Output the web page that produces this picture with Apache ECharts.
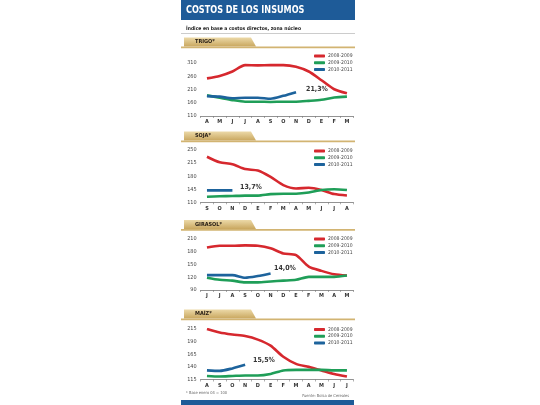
<!DOCTYPE html>
<html><head><meta charset="utf-8">
<script src="https://cdn.jsdelivr.net/npm/echarts@6/dist/echarts.min.js"></script>
<style>html,body{margin:0;padding:0;background:#fff}#c{width:540px;height:405px}</style>
</head><body><div id="c"></div>
<script>
const seriesNames = ['2008-2009', '2009-2010', '2010-2011'];
const trigoMonths = ['A','M','J','J','A','S','O','N','D','E','F','M'];
const sojaMonths = ['S','O','N','D','E','F','M','A','M','J','J','A'];
const girasolMonths = ['J','J','A','S','O','N','D','E','F','M','A','M'];
const maizMonths = ['A','S','O','N','D','E','F','M','A','M','J','J'];

const trigo0809 = [252, 261, 278, 302, 301, 302, 302, 296, 278, 245, 211, 196];
const trigo0910 = [188, 179, 170, 164, 164, 163, 164, 164, 167, 171, 180, 183];
const trigo1011 = [185, 183, 177, 179, 179, 175, 186, 200];

const soja0809 = [232, 217, 212, 199, 195, 178, 156, 147, 149, 143, 132, 128];
const soja0910 = [125, 126, 127, 128, 128, 132, 133, 133, 136, 143, 145, 143];
const soja1011 = [142, 142, 142];

const girasol0809 = [190, 194, 194, 195, 194, 188, 176, 172, 145, 135, 127, 124];
const girasol0910 = [119, 114, 112, 108, 108, 110, 112, 114, 121, 121, 121, 124];
const girasol1011 = [125, 125, 125, 119, 123, 129];

const maiz0809 = [215, 208, 204, 201, 194, 182, 160, 146, 140, 133, 126, 121];
const maiz0910 = [122, 121, 122, 123, 123, 126, 133, 134, 134, 134, 133, 133];
const maiz1011 = [133, 132, 137, 144];

const trigoTicks = {min: 110, max: 310, interval: 50};
const sojaTicks = {min: 110, max: 250, interval: 35};
const girasolTicks = {min: 90, max: 210, interval: 30};
const maizTicks = {min: 115, max: 215, interval: 25};

const panelTitles = ['TRIGO*', 'SOJA*', 'GIRASOL*', 'MAÍZ*'];
const variations = ['21,3%', '13,7%', '14,0%', '15,5%'];

const colors = ['#d6282e', '#1f9e58', '#1d639c'];
const FONT = '"DejaVu Sans Condensed","Liberation Sans Narrow","DejaVu Sans",sans-serif';

const panels = [
  {months: trigoMonths, data: [trigo0809, trigo0910, trigo1011], ticks: trigoTicks, top: 63, height: 53, lineY: 46.5, legendTop: 52.5, pct: [317, 89]},
  {months: sojaMonths, data: [soja0809, soja0910, soja1011], ticks: sojaTicks, top: 150, height: 52.3, lineY: 140.5, legendTop: 147.5, pct: [251, 187]},
  {months: girasolMonths, data: [girasol0809, girasol0910, girasol1011], ticks: girasolTicks, top: 239, height: 51, lineY: 229, legendTop: 235.5, pct: [285, 268]},
  {months: maizMonths, data: [maiz0809, maiz0910, maiz1011], ticks: maizTicks, top: 329, height: 50.5, lineY: 318.5, legendTop: 326, pct: [264, 360]}
];

const grid = [], xAxis = [], yAxis = [], series = [], legend = [], graphic = [];

// header
graphic.push({type: 'rect', shape: {x: 181, y: 0, width: 174, height: 20}, style: {fill: '#1e5b98'}});
graphic.push({type: 'text', x: 186, y: 10.5, scaleX: 0.82, style: {text: 'COSTOS DE LOS INSUMOS', fill: '#fff', font: 'bold 11px ' + FONT, verticalAlign: 'middle'}});
graphic.push({type: 'text', left: 186, top: 26, style: {text: 'Índice en base a costos directos, zona núcleo', fill: '#222', font: 'bold 5px ' + FONT}});
graphic.push({type: 'rect', shape: {x: 181, y: 33, width: 174, height: 0.6}, style: {fill: '#999'}});

panels.forEach((p, i) => {
  grid.push({left: 200.6, width: 152.7, top: p.top, height: p.height});
  xAxis.push({
    type: 'category', gridIndex: i, data: p.months, boundaryGap: true,
    axisLine: {lineStyle: {color: '#777', width: 0.8}},
    axisTick: {show: true, length: 2, lineStyle: {color: '#777', width: 0.6}},
    axisLabel: {color: '#333', fontSize: 5.5, fontWeight: 'bold', margin: 3, fontFamily: FONT, interval: 0}
  });
  yAxis.push({
    type: 'value', gridIndex: i, min: p.ticks.min, max: p.ticks.max, interval: p.ticks.interval,
    axisLine: {show: false}, axisTick: {show: false}, splitLine: {show: false},
    axisLabel: {color: '#444', fontSize: 5.5, margin: 4, fontFamily: FONT}
  });
  p.data.forEach((d, k) => {
    series.push({
      type: 'line', name: seriesNames[k], xAxisIndex: i, yAxisIndex: i, data: d,
      smooth: 0.25, symbol: 'none', z: 2 + k,
      lineStyle: {color: colors[k], width: 2.6}, itemStyle: {color: colors[k]}
    });
  });
  legend.push({
    data: seriesNames, orient: 'vertical', left: 314, top: p.legendTop,
    itemWidth: 11, itemHeight: 3, itemGap: 0, icon: 'roundRect', selectedMode: false,
    textStyle: {fontSize: 5, color: '#444', fontFamily: FONT, lineHeight: 6.8, padding: [0, 0, 0, -2]},
    padding: 0
  });
  // tab
  const ly = p.lineY;
  graphic.push({type: 'polygon', shape: {points: [[184, ly - 9], [251, ly - 9], [256, ly], [184, ly]]},
    style: {fill: new echarts.graphic.LinearGradient(0, 0, 0, 1, [{offset: 0, color: '#ecd9a8'}, {offset: 1, color: '#c9a75f'}])}});
  graphic.push({type: 'rect', shape: {x: 181, y: ly, width: 174, height: 1.8}, style: {fill: '#d2b472'}});
  graphic.push({type: 'text', left: 195, top: ly - 7.5, style: {text: panelTitles[i], fill: '#2a2016', font: 'bold 5.5px ' + FONT}});
  graphic.push({type: 'text', x: p.pct[0], y: p.pct[1], style: {text: variations[i], fill: '#333', font: 'bold 7px ' + FONT, align: 'center', verticalAlign: 'middle'}});
});

// footer
graphic.push({type: 'text', left: 186, top: 391, style: {text: '* Base enero 04 = 100', fill: '#666', font: '4px ' + FONT}});
graphic.push({type: 'text', x: 349, y: 396, style: {text: 'Fuente: Bolsa de Cereales', fill: '#666', font: '4px ' + FONT, align: 'right', verticalAlign: 'middle'}});
graphic.push({type: 'rect', shape: {x: 181, y: 400, width: 173, height: 5}, style: {fill: '#1e5b98'}});

const chart = echarts.init(document.getElementById('c'), null, {renderer: 'canvas'});
chart.setOption({backgroundColor: '#fff', animation: false, grid, xAxis, yAxis, series, legend, graphic});
</script></body></html>
